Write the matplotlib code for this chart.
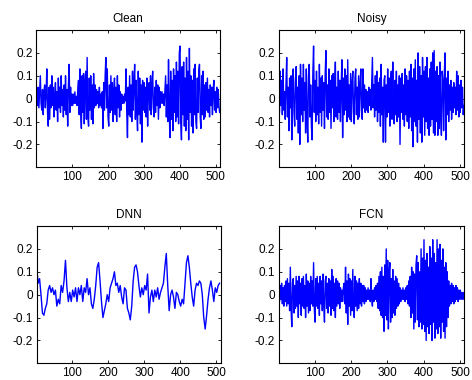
import numpy as np
import matplotlib
matplotlib.use("Agg")
import matplotlib.pyplot as plt
from matplotlib.ticker import FuncFormatter

clean = [
    0.02, 0.04, -0.03, 0.05, -0.04, 0.03, 0.10, -0.02, -0.05, 0.04,
    -0.07, 0.03, 0.06, -0.04, 0.02, 0.13, -0.06, -0.12, 0.05, -0.09,
    0.06, -0.04, 0.10, -0.03, 0.05, -0.08, 0.02, 0.07, -0.05, 0.03,
    -0.10, 0.09, -0.04, 0.05, -0.06, 0.10, -0.03, 0.04, -0.08, 0.06,
    -0.05, 0.10, -0.07, 0.04, -0.12, 0.06, 0.15, -0.06, 0.05, -0.03,
    0.02, -0.03, 0.02, -0.02, 0.03, -0.02, 0.01, -0.03, 0.04,
    0.08, -0.07, 0.13, -0.05, -0.13, 0.10, -0.06, 0.11, -0.11, 0.07,
    0.12, -0.09, 0.18, -0.08, -0.12, 0.09, -0.05, 0.10, -0.09, 0.06,
    -0.11, 0.11, -0.04, 0.06,
    -0.03, 0.04, -0.02, 0.03, -0.04, 0.05, -0.03, 0.02, -0.04, 0.03,
    -0.13, 0.07, -0.05, 0.10, 0.18, -0.04, 0.13, -0.08, -0.12, 0.06,
    -0.06, 0.10, -0.05, 0.07, -0.10, 0.04, 0.09, -0.07, 0.05, -0.10,
    0.10, -0.04, 0.06, -0.08, 0.03, -0.05,
    0.02, -0.02, 0.01, -0.02, 0.02, -0.01,
    0.13, -0.06, -0.17, 0.05, -0.07,
    0.10, -0.08, 0.06, -0.10, 0.12, -0.05, 0.07, 0.15, -0.09, 0.08,
    -0.06, -0.14, 0.12, -0.07, 0.09, -0.11, 0.06, -0.19, 0.08, -0.05,
    0.07, -0.06, 0.05, -0.08, 0.09, -0.12, 0.04, 0.07, -0.05, 0.10,
    -0.07, 0.06, 0.12, -0.04, -0.08, 0.05, -0.06, 0.08, -0.03, 0.06,
    -0.09, 0.05, -0.04, 0.03,
    -0.02, 0.03, -0.02, 0.02, -0.03, 0.04,
    0.10, -0.08, 0.06, -0.10, 0.17, -0.06, -0.17, 0.12, -0.09, 0.08,
    -0.14, 0.13, -0.06, 0.10, -0.10, 0.16, -0.08, 0.12, -0.11, 0.20,
    0.23, -0.10, -0.18, 0.14, -0.07, 0.16, -0.12, 0.09, -0.14, 0.18,
    -0.09, 0.12, -0.18, 0.22, -0.06, 0.10, -0.12, 0.08, -0.15, 0.13,
    -0.07, 0.15, -0.10, -0.13, 0.09, -0.06, 0.12, 0.15, -0.08, -0.13,
    0.10, -0.07, 0.12, -0.09, 0.06,
    -0.08, 0.07, -0.05, 0.09, -0.06, 0.04, -0.08, 0.06, -0.03, 0.05,
    -0.07, 0.04, 0.08, -0.05, 0.03, -0.06, 0.05, -0.04, 0.04, -0.03,
    -0.06,
]

noisy = [
    0.04, -0.06, 0.12, -0.03, 0.08, -0.07, 0.13, -0.05, 0.03, -0.09,
    0.06, 0.18, -0.08, 0.05, -0.14, 0.09, -0.04, 0.10, -0.18, 0.07,
    0.13, -0.06, -0.12, 0.08, 0.14, -0.09, 0.05, -0.15, 0.10, -0.20,
    0.15, -0.07, 0.09, -0.10, 0.15, -0.05, 0.07, -0.15, 0.13, -0.08,
    -0.19, 0.10, 0.15, -0.08, 0.06, -0.12, -0.18, 0.11, 0.23, -0.06,
    0.08, -0.10, 0.12, -0.07, 0.05, -0.11, 0.15, -0.06, 0.09, -0.12,
    0.10, -0.05, 0.07, -0.13, 0.11, 0.21, -0.08, 0.06, -0.09, 0.13,
    -0.06, 0.08, -0.13, 0.10, -0.04, 0.11, -0.10, 0.07, 0.16, -0.08,
    0.05, -0.09, 0.12, -0.06, 0.08, -0.10, 0.06, 0.17, -0.17, 0.09,
    -0.07, 0.13, -0.05, 0.10, -0.10, 0.17, -0.08, 0.06, -0.09, 0.11,
    -0.10, 0.07, 0.12, -0.06, -0.11, 0.09, 0.13, -0.07, 0.05, -0.09,
    0.10, -0.08, 0.06, 0.13, -0.05, -0.09, 0.13, -0.04, 0.06, -0.06,
    0.04, -0.05, 0.03, -0.06, 0.05, -0.03, 0.04, -0.05, 0.06, 0.18,
    -0.04, 0.06, -0.08, 0.10, -0.05, 0.12, -0.10, 0.07, -0.06, 0.09,
    -0.12, 0.15, -0.07, 0.05, -0.19, 0.08, 0.10, -0.19, 0.06, -0.08,
    0.13, -0.06, 0.09, -0.12, 0.07, 0.12, -0.09, 0.16, -0.05, -0.11,
    0.08, -0.07, 0.12, -0.10, 0.06, -0.08, 0.10, -0.20, 0.09, -0.06,
    0.11, -0.09, 0.06, -0.12, 0.13, -0.07, 0.10, -0.10, 0.08, -0.13,
    0.12, -0.08, 0.15, -0.14, 0.09, -0.21, 0.13, -0.10, 0.17, -0.12,
    0.08, -0.19, 0.20, -0.09, 0.14, -0.15, 0.10, -0.19, 0.18, -0.08,
    0.12, -0.16, 0.14, -0.10, 0.18, -0.13, 0.09, -0.16, 0.13, -0.12,
    0.16, -0.09, 0.20, -0.15, 0.21, -0.16, 0.12, -0.10, 0.14, -0.16,
    0.10, -0.13, 0.16, -0.08, -0.16, 0.12, 0.08, -0.14, 0.11, 0.20,
    -0.18, 0.09, -0.07, 0.12, -0.10, 0.06, -0.05, 0.08, -0.09, 0.05,
    -0.06, 0.07, -0.04, 0.05, -0.07, 0.12, -0.05, 0.10, -0.08, 0.06,
    -0.06, 0.08, -0.04, 0.05, -0.07, -0.03,
]

dnn = [
    0.12, 0.05, 0.07, 0.00, -0.08, -0.09, -0.06, -0.04, 0.02, 0.04,
    0.01, 0.03, 0.00, 0.02, -0.05, -0.02, -0.04, 0.04, 0.01, 0.06,
    0.15, 0.03, -0.03, 0.01, -0.03, 0.02, -0.01, 0.03, -0.03, 0.03,
    0.00, 0.04, -0.03, 0.03, 0.01, 0.07, 0.00, 0.03, -0.04, -0.06,
    -0.02, 0.04, 0.12, 0.14, 0.06, -0.03, -0.10, -0.07, -0.04, 0.00,
    -0.03, 0.03, 0.05, 0.07, 0.10, 0.04, 0.05, 0.01, 0.04, -0.01,
    -0.04, 0.03, 0.02, -0.06, -0.08, -0.11, -0.05, 0.06, 0.12, 0.13,
    0.10, 0.04, -0.01, 0.03, 0.00, 0.04, 0.02, 0.09, -0.08, -0.01,
    0.02, -0.03, 0.02, -0.01, 0.03, -0.02, 0.01, 0.03, 0.05, 0.12,
    0.18, 0.04, -0.07, 0.00, 0.02, -0.01, -0.06, 0.01, 0.00, -0.03,
    -0.05, -0.02, -0.04, 0.05, 0.14, 0.17, 0.12, 0.05, -0.01, -0.05,
    0.02, 0.05, 0.04, 0.06, 0.05, 0.00, -0.10, -0.15, -0.09, -0.02,
    0.03, 0.06, 0.02, -0.03, 0.03, 0.01, 0.04, 0.05,
]

fcn = [
    0.02, -0.03, 0.04, -0.02, 0.05, -0.04, 0.03, -0.05, 0.04, -0.03,
    0.06, -0.05, 0.07, -0.04, 0.05, -0.07, 0.12, -0.06, -0.14, 0.05,
    0.07, -0.08, 0.04, -0.06, 0.08, -0.05, 0.06, -0.10, 0.08, -0.04,
    0.05, -0.09, 0.07, -0.05, 0.08, -0.06, 0.04, -0.10, 0.09, -0.05,
    0.06, -0.08, 0.05, -0.07, 0.08, -0.04, 0.06, -0.05, 0.14, -0.06,
    -0.12, 0.07, -0.05, 0.08, -0.06, 0.05, -0.09, 0.08, -0.04, 0.06,
    -0.07, 0.09, -0.05, -0.12, 0.06, 0.08, -0.06, 0.05, -0.08, 0.07,
    -0.05, 0.06, -0.09, 0.11, -0.06, 0.08, -0.07, 0.05, -0.10, 0.07,
    -0.05, 0.06, -0.04, 0.05, -0.06, 0.03, -0.03, 0.02, -0.03, 0.03,
    0.05, -0.04, 0.12, -0.08, 0.06, -0.13, 0.09, -0.05, 0.07, -0.09,
    0.06, -0.07, 0.11, -0.06, -0.10, 0.08, -0.05, 0.06, -0.07, 0.05,
    -0.06, 0.07, -0.04, 0.05, -0.05, 0.04, -0.03, 0.04, -0.04, 0.03,
    -0.03, 0.02, -0.02, 0.03, -0.02, 0.02, -0.03, 0.07, -0.02, -0.05,
    0.02, -0.03, 0.03, -0.02, 0.04, -0.03, 0.05, -0.06, 0.08, -0.07,
    0.10, -0.09, 0.12, -0.10, 0.08, -0.16, 0.13, -0.09, 0.20, -0.11,
    0.15, -0.15, 0.09, 0.14, -0.12, 0.07, -0.10, 0.11, -0.08, 0.06,
    -0.09, 0.08, -0.06, 0.07, -0.05, 0.05, -0.04, 0.03, -0.03, 0.02,
    -0.02, 0.03, -0.02, 0.02, -0.03, 0.03, -0.02, 0.04, -0.04, 0.06,
    -0.05, 0.08, -0.10, 0.12, -0.08, 0.10, -0.15, 0.09, -0.12, 0.13,
    0.17, -0.11, 0.14, -0.14, 0.10, -0.12, 0.20, -0.15, 0.16, -0.13,
    0.24, -0.16, 0.15, -0.20, 0.18, -0.14, 0.12, -0.17, 0.21, -0.13,
    0.16, -0.20, 0.24, -0.12, 0.18, -0.19, 0.14, -0.15, 0.24, -0.17,
    0.20, -0.14, 0.22, -0.19, 0.15, -0.12, 0.20, -0.16, 0.12, -0.19,
    0.14, -0.14, 0.10, -0.10, 0.06, -0.05, 0.04, -0.04, 0.05, -0.03,
    0.04, -0.04, 0.03, -0.03, 0.04, -0.02, 0.03, -0.03, 0.02, -0.02,
    0.02, -0.02, 0.01, -0.02, 0.01, -0.02,
]

titles = ["Clean", "Noisy", "DNN", "FCN"]
series = [clean, noisy, dnn, fcn]
sample_steps = [2, 2, 4, 2]   # spacing (in samples) between the listed values
xticks = [100, 200, 300, 400, 500]
yticks = [-0.2, -0.1, 0, 0.1, 0.2]

plt.rcParams['font.family'] = ['Liberation Sans', 'DejaVu Sans']

fig = plt.figure(figsize=(4.72, 3.80), dpi=100)
positions = [
    [0.0763, 0.5597, 0.3898, 0.3613],
    [0.5905, 0.5597, 0.3932, 0.3613],
    [0.0777, 0.0439, 0.3898, 0.3613],
    [0.5905, 0.0439, 0.3932, 0.3613],
]

def fmt(v, pos):
    if abs(v) < 1e-9:
        return "0"
    return ("%g" % v)

for pos, title, y, step in zip(positions, titles, series, sample_steps):
    ax = fig.add_axes(pos)
    x = 1 + step * np.arange(len(y))
    ax.plot(x, y, color=(0, 0, 1), linewidth=1.0)
    ax.set_xlim(1, 512)
    ax.set_ylim(-0.3, 0.3)
    ax.set_xticks(xticks)
    ax.set_yticks(yticks)
    ax.yaxis.set_major_formatter(FuncFormatter(fmt))
    ax.tick_params(direction='in', length=2.5, width=0.6, top=True, right=True,
                   labelsize=8.5, pad=2.5)
    for s in ax.spines.values():
        s.set_linewidth(0.8)
    ax.set_title(title, fontsize=8.5, pad=6)

fig.savefig("out.png", dpi=100)
